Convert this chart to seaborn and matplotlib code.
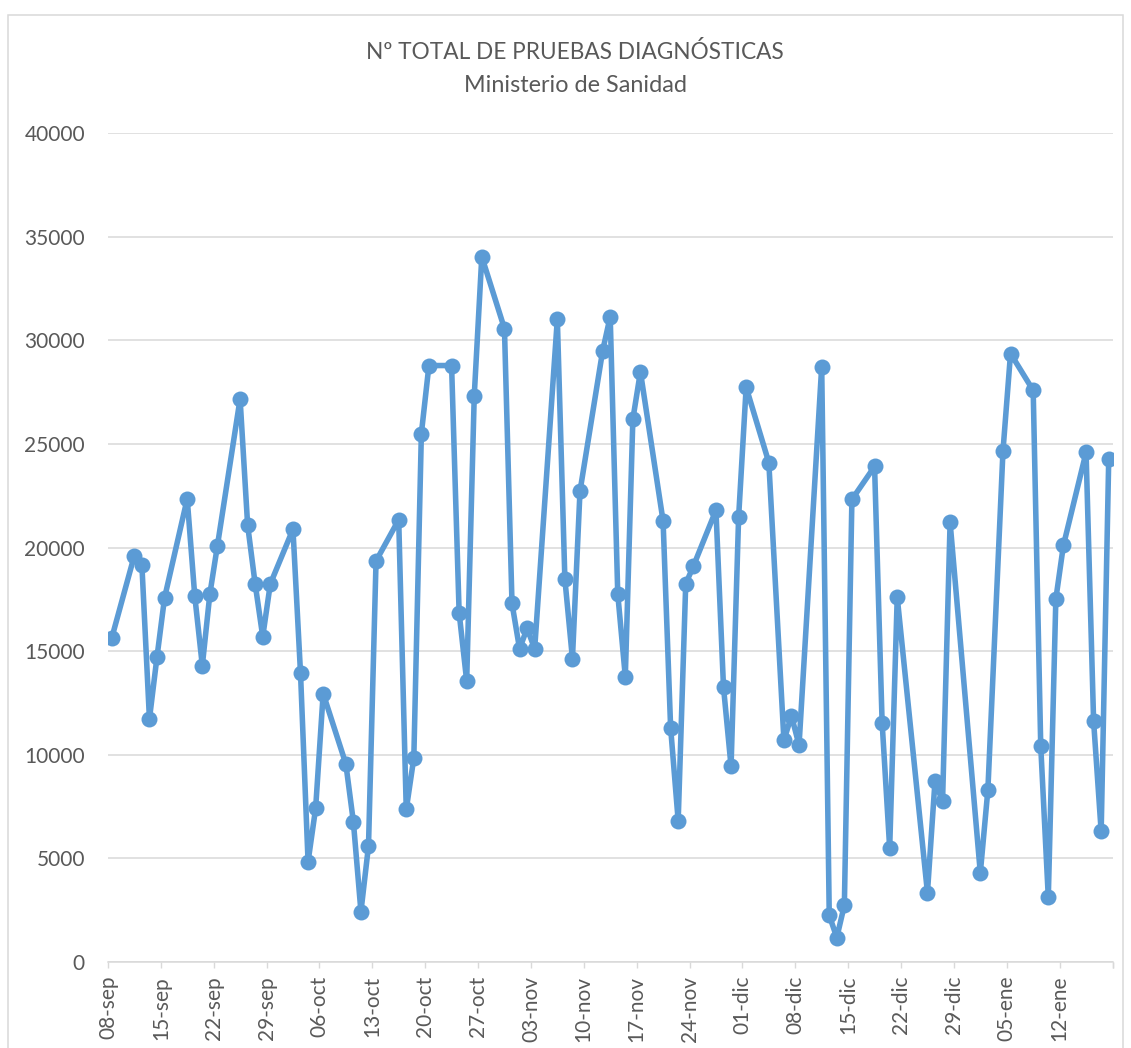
import pandas as pd
import matplotlib
matplotlib.use("Agg")
import matplotlib.pyplot as plt
from matplotlib.patches import Rectangle
import seaborn as sns

# ---- data ----
fechas = [
    "2020-09-08", "2020-09-11", "2020-09-12", "2020-09-13", "2020-09-14", "2020-09-15",
    "2020-09-18", "2020-09-19", "2020-09-20", "2020-09-21", "2020-09-22",
    "2020-09-25", "2020-09-26", "2020-09-27", "2020-09-28", "2020-09-29",
    "2020-10-02", "2020-10-03", "2020-10-04", "2020-10-05", "2020-10-06",
    "2020-10-09", "2020-10-10", "2020-10-11", "2020-10-12", "2020-10-13",
    "2020-10-16", "2020-10-17", "2020-10-18", "2020-10-19", "2020-10-20",
    "2020-10-23", "2020-10-24", "2020-10-25", "2020-10-26", "2020-10-27",
    "2020-10-30", "2020-10-31", "2020-11-01", "2020-11-02", "2020-11-03",
    "2020-11-06", "2020-11-07", "2020-11-08", "2020-11-09",
    "2020-11-12", "2020-11-13", "2020-11-14", "2020-11-15", "2020-11-16", "2020-11-17",
    "2020-11-20", "2020-11-21", "2020-11-22", "2020-11-23", "2020-11-24",
    "2020-11-27", "2020-11-28", "2020-11-29", "2020-11-30", "2020-12-01",
    "2020-12-04", "2020-12-06", "2020-12-07", "2020-12-08",
    "2020-12-11", "2020-12-12", "2020-12-13", "2020-12-14", "2020-12-15",
    "2020-12-18", "2020-12-19", "2020-12-20", "2020-12-21",
    "2020-12-25", "2020-12-26", "2020-12-27", "2020-12-28",
    "2021-01-01", "2021-01-02", "2021-01-04", "2021-01-05",
    "2021-01-08", "2021-01-09", "2021-01-10", "2021-01-11", "2021-01-12",
    "2021-01-15", "2021-01-16", "2021-01-17", "2021-01-18",
]
pruebas = [
    15620, 19610, 19150, 11730, 14720, 17570,
    22350, 17660, 14300, 17760, 20090,
    27170, 21080, 18230, 15700, 18240,
    20880, 13940, 4840, 7410, 12950,
    9560, 6760, 2430, 5600, 19350,
    21340, 7360, 9840, 25500, 28780,
    28780, 16850, 13560, 27320, 34030,
    30560, 17300, 15110, 16100, 15110,
    31020, 18470, 14640, 22710,
    29490, 31140, 17760, 13770, 26190, 28480,
    21280, 11300, 6820, 18250, 19090,
    21800, 13260, 9440, 21460, 27730,
    24100, 10700, 11880, 10460,
    28720, 2250, 1180, 2740, 22320,
    23910, 11550, 5500, 17600,
    3350, 8720, 7750, 21210,
    4300, 8300, 24660, 29360,
    27580, 10410, 3120, 17520, 20100,
    24590, 11610, 6300, 24260,
]
y_ticks = [0, 5000, 10000, 15000, 20000, 25000, 30000, 35000, 40000]
meses = {9: "sep", 10: "oct", 11: "nov", 12: "dic", 1: "ene"}
titulo = "Nº TOTAL DE PRUEBAS DIAGNÓSTICAS"
subtitulo = "Ministerio de Sanidad"

df = pd.DataFrame({"fecha": pd.to_datetime(fechas), "pruebas": pruebas})

# ---- style ----
sns.set_theme(style="white")
plt.rcParams["font.family"] = ["Lato", "DejaVu Sans"]
TXT = "#595959"
GRID = "#D9D9D9"
BLUE = "#5B9BD5"

fig = plt.figure(figsize=(11.31, 10.48), dpi=100)
ax = fig.add_axes([107.9 / 1131, 1 - 962 / 1048, (1112.5 - 107.9) / 1131, (962 - 133) / 1048])

sns.lineplot(data=df, x="fecha", y="pruebas", ax=ax, color=BLUE, linewidth=4.0,
             marker="o", markersize=11.5, markeredgewidth=0, markerfacecolor=BLUE,
             zorder=3)

# x axis: weekly ticks starting at the first date, points centred in their day
start = df["fecha"].min()
end = df["fecha"].max()
half = pd.Timedelta(hours=12)
ax.set_xlim(start - half, end + half)
tick_dates = pd.date_range(start, end + pd.Timedelta(days=1), freq="7D")
ax.set_xticks([d - half for d in tick_dates] + [end + half])
ax.set_xticklabels([f"{d.day:02d}-{meses[d.month]}" for d in tick_dates] + [""],
                   rotation=90, color=TXT, fontsize=15)
ax.tick_params(axis="x", direction="out", length=4, width=1, color=GRID, pad=6, bottom=True)

ax.set_ylim(0, 40000)
ax.set_yticks(y_ticks)
ax.set_yticklabels([str(v) for v in y_ticks], color=TXT, fontsize=15)
ax.tick_params(axis="y", length=0, pad=16.5)

ax.yaxis.grid(True, color=GRID, linewidth=1.1)
ax.xaxis.grid(False)
for s in ["top", "right", "left"]:
    ax.spines[s].set_visible(False)
ax.spines["bottom"].set_color(GRID)
ax.spines["bottom"].set_linewidth(1.1)
ax.set_xlabel("")
ax.set_ylabel("")

fig.text(575 / 1131, 1 - 52 / 1048, titulo, ha="center", va="center", color=TXT, fontsize=16.3)
fig.text(575 / 1131, 1 - 86 / 1048, subtitulo, ha="center", va="center", color=TXT, fontsize=16.8)

# outer chart border
fig.patches.append(Rectangle((7.5 / 1131, -0.05), (1123 - 7.5) / 1131, 1.05 - 14.5 / 1048,
                             transform=fig.transFigure, fill=False, edgecolor=GRID,
                             linewidth=1.1, zorder=0))

fig.savefig("out.png", dpi=100, facecolor="white")
